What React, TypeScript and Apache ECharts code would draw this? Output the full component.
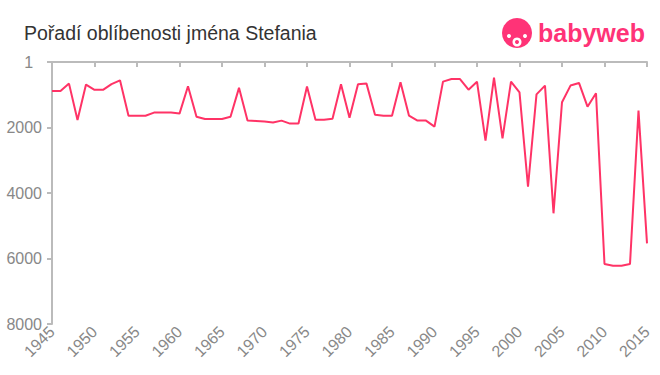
import React, { useEffect, useRef } from "react";
import * as echarts from "echarts";

const years: number[] = [];
for (let y = 1945; y <= 2015; y++) years.push(y);

const ranks: number[] = [
  885, 885, 660, 1770, 690, 850, 850, 675, 560, 1640,
  1640, 1640, 1545, 1545, 1545, 1575, 740, 1670, 1740, 1740,
  1740, 1670, 790, 1790, 1800, 1820, 1850, 1790, 1880, 1880,
  750, 1760, 1760, 1730, 680, 1700, 680, 660, 1610, 1640,
  1640, 620, 1640, 1790, 1790, 1975, 600, 520, 520, 845,
  600, 2400, 480, 2330, 600, 925, 3810, 990, 720, 4620,
  1230, 720, 640, 1365, 955, 6170, 6220, 6220, 6170, 1485,
  5540,
];

const yTicks = [0, 2000, 4000, 6000, 8000];

const FONT = "'Liberation Sans', Arial, sans-serif";

export default function App() {
  const ref = useRef<HTMLDivElement>(null);
  useEffect(() => {
    if (!ref.current) return;
    const chart = echarts.init(ref.current, undefined, { renderer: "svg" });
    const data = years.map((y, i) => [y, ranks[i]]);
    chart.setOption({
      animation: false,
      title: {
        text: "Pořadí oblíbenosti jména Stefania",
        left: 19,
        top: 18,
        textStyle: { fontFamily: FONT, fontSize: 19.5, fontWeight: "normal", color: "#333" },
      },
      graphic: [
        { type: "circle", shape: { cx: 517, cy: 33, r: 15 }, style: { fill: "#ff3377" } },
        { type: "circle", shape: { cx: 517, cy: 42, r: 4.5 }, style: { fill: "#fff" } },
        { type: "circle", shape: { cx: 517, cy: 42, r: 2 }, style: { fill: "#ff3377" } },
        { type: "circle", shape: { cx: 509, cy: 36, r: 2 }, style: { fill: "#fff" } },
        { type: "circle", shape: { cx: 525, cy: 36, r: 2 }, style: { fill: "#fff" } },
        {
          type: "text",
          x: 538,
          y: 20,
          style: { text: "babyweb", fill: "#ff3377", font: "bold 25px 'Liberation Sans', Arial, sans-serif" },
        },
      ],
      grid: { left: 52, right: 13, top: 62, bottom: 51 },
      xAxis: {
        type: "value",
        min: 1945,
        max: 2015,
        interval: 5,
        axisLine: { lineStyle: { color: "#bbb", width: 2 } },
        axisTick: { show: true, length: 5, lineStyle: { color: "#bbb", width: 2 } },
        splitLine: { show: false },
        axisLabel: {
          rotate: 45,
          color: "#888",
          fontSize: 16,
          fontFamily: FONT,
          margin: 5,
          formatter: (v: number) => String(v),
        },
      },
      yAxis: {
        type: "value",
        inverse: true,
        min: 0,
        max: 8000,
        interval: 2000,
        axisLine: { show: true, lineStyle: { color: "#bbb", width: 2 } },
        axisTick: { show: true, length: 5, lineStyle: { color: "#bbb", width: 2 } },
        splitLine: { show: false },
        axisLabel: {
          color: "#888",
          fontSize: 16,
          fontFamily: FONT,
          margin: 10,
          formatter: (v: number) => (v === yTicks[0] ? "1  " : String(v)),
        },
      },
      series: [
        {
          type: "line",
          data,
          symbol: "none",
          lineStyle: { color: "#ff3366", width: 2 },
        },
      ],
    });
    return () => chart.dispose();
  }, []);
  return <div ref={ref} style={{ width: 660, height: 375, position: "absolute", left: 0, top: 0 }} />;
}
